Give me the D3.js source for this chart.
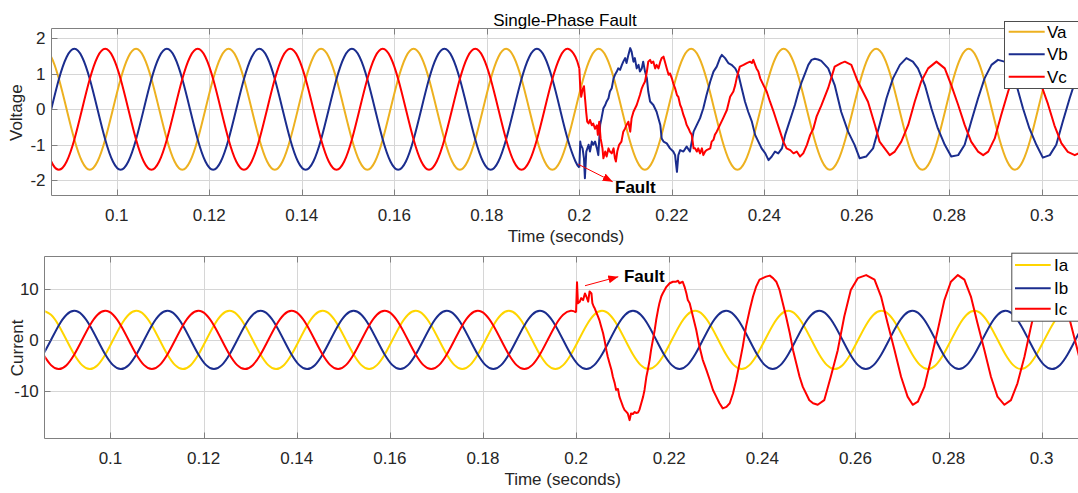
<!DOCTYPE html>
<html>
<head>
<meta charset="utf-8">
<script src="https://cdn.jsdelivr.net/npm/d3@7"></script>
<style>
  body { margin: 0; background: #fff; }
  svg { display: block; font-family: "Liberation Sans", Arial, sans-serif; }
</style>
</head>
<body>
<div id="chart"></div>
<script>
// clean samples: 12 per 50 Hz cycle (every 30 degrees)
const step = 0.02 / 12;
const tV0 = 0.084167;   // first voltage sample, on a Va peak
const tI0 = 0.085556;   // first current sample, on an Ia peak

const xTicks = [0.1, 0.12, 0.14, 0.16, 0.18, 0.2, 0.22, 0.24, 0.26, 0.28, 0.3];
const vTicks = [-2, -1, 0, 1, 2];
const iTicks = [-10, 0, 10];

// Va: no fault, whole range
const va = [
  1.7, 1.47, 0.85, 0, -0.85, -1.47, -1.7, -1.47, -0.85, 0, 0.85, 1.47,
  1.7, 1.47, 0.85, 0, -0.85, -1.47, -1.7, -1.47, -0.85, 0, 0.85, 1.47,
  1.7, 1.47, 0.85, 0, -0.85, -1.47, -1.7, -1.47, -0.85, 0, 0.85, 1.47,
  1.7, 1.47, 0.85, 0, -0.85, -1.47, -1.7, -1.47, -0.85, 0, 0.85, 1.47,
  1.7, 1.47, 0.85, 0, -0.85, -1.47, -1.7, -1.47, -0.85, 0, 0.85, 1.47,
  1.7, 1.47, 0.85, 0, -0.85, -1.47, -1.7, -1.47, -0.85, 0, 0.85, 1.47,
  1.7, 1.47, 0.85, 0, -0.85, -1.47, -1.7, -1.47, -0.85, 0, 0.85, 1.47,
  1.7, 1.47, 0.85, 0, -0.85, -1.47, -1.7, -1.47, -0.85, 0, 0.85, 1.47,
  1.7, 1.47, 0.85, 0, -0.85, -1.47, -1.7, -1.47, -0.85, 0, 0.85, 1.47,
  1.7, 1.47, 0.85, 0, -0.85, -1.47, -1.7, -1.47, -0.85, 0, 0.85, 1.47,
  1.7, 1.47, 0.85, 0, -0.85, -1.47, -1.7, -1.47, -0.85, 0, 0.85, 1.47,
  1.7, 1.47, 0.85, 0
];

// Vb, Vc before the fault (up to 0.2 s)
const vbPre = [
  -0.85, 0, 0.85, 1.47, 1.7, 1.47, 0.85, 0, -0.85, -1.47, -1.7, -1.47,
  -0.85, 0, 0.85, 1.47, 1.7, 1.47, 0.85, 0, -0.85, -1.47, -1.7, -1.47,
  -0.85, 0, 0.85, 1.47, 1.7, 1.47, 0.85, 0, -0.85, -1.47, -1.7, -1.47,
  -0.85, 0, 0.85, 1.47, 1.7, 1.47, 0.85, 0, -0.85, -1.47, -1.7, -1.47,
  -0.85, 0, 0.85, 1.47, 1.7, 1.47, 0.85, 0, -0.85, -1.47, -1.7, -1.47,
  -0.85, 0, 0.85, 1.47, 1.7, 1.47, 0.85, 0, -0.85, -1.47
];
const vcPre = [
  -0.85, -1.47, -1.7, -1.47, -0.85, 0, 0.85, 1.47, 1.7, 1.47, 0.85, 0,
  -0.85, -1.47, -1.7, -1.47, -0.85, 0, 0.85, 1.47, 1.7, 1.47, 0.85, 0,
  -0.85, -1.47, -1.7, -1.47, -0.85, 0, 0.85, 1.47, 1.7, 1.47, 0.85, 0,
  -0.85, -1.47, -1.7, -1.47, -0.85, 0, 0.85, 1.47, 1.7, 1.47, 0.85, 0,
  -0.85, -1.47, -1.7, -1.47, -0.85, 0, 0.85, 1.47, 1.7, 1.47, 0.85, 0,
  -0.85, -1.47, -1.7, -1.47, -0.85, 0, 0.85, 1.47, 1.7, 1.47
];

// Vb, Vc after the fault, [time, value]
const vbFault = [
  [0.2000,-1.64],[0.2002,-0.91],[0.2003,-1.00],[0.2007,-1.10],[0.2010,-1.38],[0.2012,-1.94],
  [0.2015,-1.19],[0.2020,-1.00],[0.2023,-1.19],[0.2027,-0.91],[0.2030,-1.00],[0.2034,-0.91],
  [0.2038,-1.10],[0.2041,-1.29],[0.2045,-0.44],[0.2048,-0.25],[0.2052,0.03],[0.2056,0.12],
  [0.2059,0.22],[0.2063,0.31],[0.2066,0.50],[0.2070,0.59],[0.2074,0.87],[0.2077,0.97],
  [0.2081,1.06],[0.2084,1.15],[0.2088,1.11],[0.2092,1.25],[0.2095,1.34],[0.2099,1.44],
  [0.2102,1.30],[0.2106,1.53],[0.2110,1.72],[0.2113,1.62],[0.2117,1.34],[0.2120,1.44],
  [0.2124,1.15],[0.2128,1.25],[0.2131,1.06],[0.2135,1.15],[0.2138,1.34],[0.2142,1.06],
  [0.2146,0.87],[0.2149,0.50],[0.2153,0.22],[0.2160,0.12],[0.2167,-0.07],[0.2175,-0.44],
  [0.2178,-0.82],[0.2182,-0.91],[0.2189,-0.96],[0.2196,-1.10],[0.2203,-1.19],[0.2207,-1.29],
  [0.2211,-1.76],[0.2214,-1.29],[0.2218,-1.15],[0.2225,-1.19],[0.2232,-1.05],[0.2239,-1.19],
  [0.2247,-0.63],[0.2254,-0.44],[0.2261,-0.25],[0.2268,0.03],[0.2275,0.40],[0.2283,0.78],
  [0.2290,1.06],[0.2297,1.20],[0.2304,1.44],[0.2308,1.53],[0.2315,1.44],[0.2322,1.30],
  [0.2329,1.25],[0.2337,1.15],[0.2344,0.97],[0.2351,0.59],[0.2358,0.22],[0.2365,-0.07],
  [0.2373,-0.35],[0.2380,-0.72],[0.2387,-0.91],[0.2394,-1.10],[0.2402,-1.24],[0.2409,-1.43],
  [0.2416,-1.33],[0.2423,-1.19],[0.2430,-1.24],[0.2438,-1.10],[0.2445,-0.72],[0.2452,-0.44],
  [0.2459,-0.16],[0.2466,0.12],[0.2474,0.50],[0.2481,0.78],[0.2488,1.01],[0.2495,1.25],
  [0.2502,1.39],[0.2509,1.42],[0.2516,1.40],[0.2523,1.36],[0.2538,1.15],[0.2552,0.68],
  [0.2566,-0.07],[0.2581,-0.63],[0.2595,-1.00],[0.2606,-1.38],[0.2620,-1.33],[0.2635,-1.10],
  [0.2649,-0.44],[0.2664,0.31],[0.2678,0.87],[0.2693,1.25],[0.2707,1.44],[0.2721,1.34],
  [0.2732,1.15],[0.2747,0.68],[0.2761,0.03],[0.2775,-0.54],[0.2790,-1.00],[0.2804,-1.33],
  [0.2819,-1.29],[0.2833,-1.00],[0.2847,-0.35],[0.2862,0.31],[0.2876,0.87],[0.2891,1.25],
  [0.2905,1.39],[0.2919,1.34],[0.2933,1.05],[0.2945,0.68],[0.2959,0.03],[0.2973,-0.54],
  [0.2988,-1.00],[0.3002,-1.36],[0.3017,-1.29],[0.3031,-1.00],[0.3045,-0.35],[0.3060,0.31],
  [0.3074,0.87],[0.3089,1.25]
];
const vcFault = [
  [0.2000,1.15],[0.2002,0.60],[0.2004,0.35],[0.2007,0.55],[0.2010,0.65],[0.2012,0.35],
  [0.2015,-0.10],[0.2017,-0.35],[0.2020,-0.40],[0.2023,-0.30],[0.2027,-0.45],[0.2030,-0.40],
  [0.2034,-0.55],[0.2038,-0.45],[0.2040,-0.72],[0.2043,-0.35],[0.2046,-0.82],[0.2050,-1.10],
  [0.2052,-1.38],[0.2056,-1.19],[0.2059,-1.33],[0.2063,-1.10],[0.2066,-1.19],[0.2070,-1.24],
  [0.2074,-1.10],[0.2077,-1.38],[0.2079,-1.47],[0.2082,-1.19],[0.2086,-1.00],[0.2091,-0.91],
  [0.2095,-0.63],[0.2099,-0.54],[0.2102,-0.44],[0.2106,-0.35],[0.2110,-0.63],[0.2113,-0.25],
  [0.2117,-0.07],[0.2124,0.12],[0.2131,0.40],[0.2135,0.59],[0.2138,0.68],[0.2142,0.78],
  [0.2146,1.06],[0.2149,1.34],[0.2153,1.39],[0.2156,1.30],[0.2160,1.34],[0.2164,1.15],
  [0.2167,1.25],[0.2171,1.15],[0.2175,1.34],[0.2178,1.44],[0.2182,1.48],[0.2185,1.34],
  [0.2189,1.15],[0.2193,0.97],[0.2196,1.01],[0.2200,0.87],[0.2203,0.73],[0.2207,0.59],
  [0.2211,0.40],[0.2214,0.35],[0.2218,0.12],[0.2221,0.03],[0.2225,-0.16],[0.2229,-0.30],
  [0.2232,-0.44],[0.2236,-0.54],[0.2239,-0.63],[0.2243,-0.72],[0.2247,-1.10],[0.2250,-1.10],
  [0.2254,-1.19],[0.2257,-1.10],[0.2261,-1.24],[0.2265,-1.10],[0.2268,-1.29],[0.2272,-1.19],
  [0.2275,-1.15],[0.2283,-1.10],[0.2286,-0.91],[0.2290,-0.86],[0.2293,-0.72],[0.2297,-0.63],
  [0.2304,-0.44],[0.2311,-0.25],[0.2319,-0.02],[0.2326,0.35],[0.2333,0.50],[0.2337,0.68],
  [0.2340,0.87],[0.2344,1.06],[0.2347,1.20],[0.2355,1.25],[0.2362,1.30],[0.2369,1.34],
  [0.2373,1.30],[0.2376,1.39],[0.2380,1.25],[0.2383,1.15],[0.2387,1.06],[0.2391,0.87],
  [0.2398,0.68],[0.2405,0.50],[0.2412,0.22],[0.2420,-0.07],[0.2427,-0.35],[0.2434,-0.63],
  [0.2441,-0.91],[0.2448,-1.10],[0.2456,-1.15],[0.2463,-1.24],[0.2470,-1.19],[0.2477,-1.33],
  [0.2484,-1.24],[0.2492,-1.00],[0.2499,-0.72],[0.2506,-0.54],[0.2513,-0.20],[0.2523,0.10],
  [0.2538,0.60],[0.2552,1.20],[0.2566,1.30],[0.2574,1.34],[0.2588,1.25],[0.2602,0.78],
  [0.2624,0.21],[0.2639,-0.44],[0.2649,-0.91],[0.2660,-1.10],[0.2671,-1.29],[0.2682,-1.19],
  [0.2696,-0.91],[0.2711,-0.44],[0.2725,0.21],[0.2739,0.78],[0.2754,1.15],[0.2772,1.34],
  [0.2790,1.15],[0.2804,0.68],[0.2819,0.12],[0.2833,-0.44],[0.2847,-0.91],[0.2862,-1.19],
  [0.2873,-1.29],[0.2884,-1.19],[0.2898,-0.82],[0.2912,-0.16],[0.2927,0.50],[0.2941,1.06],
  [0.2955,1.28],[0.2970,1.33],[0.2984,1.10],[0.2998,0.70],[0.3013,0.15],[0.3027,-0.45],
  [0.3042,-0.95],[0.3056,-1.20],[0.3071,-1.29],[0.3085,-1.20]
];

// Ia, Ib: no fault, whole range
const ia = [
  5.7, 4.94, 2.85, 0, -2.85, -4.94, -5.7, -4.94, -2.85, 0, 2.85, 4.94,
  5.7, 4.94, 2.85, 0, -2.85, -4.94, -5.7, -4.94, -2.85, 0, 2.85, 4.94,
  5.7, 4.94, 2.85, 0, -2.85, -4.94, -5.7, -4.94, -2.85, 0, 2.85, 4.94,
  5.7, 4.94, 2.85, 0, -2.85, -4.94, -5.7, -4.94, -2.85, 0, 2.85, 4.94,
  5.7, 4.94, 2.85, 0, -2.85, -4.94, -5.7, -4.94, -2.85, 0, 2.85, 4.94,
  5.7, 4.94, 2.85, 0, -2.85, -4.94, -5.7, -4.94, -2.85, 0, 2.85, 4.94,
  5.7, 4.94, 2.85, 0, -2.85, -4.94, -5.7, -4.94, -2.85, 0, 2.85, 4.94,
  5.7, 4.94, 2.85, 0, -2.85, -4.94, -5.7, -4.94, -2.85, 0, 2.85, 4.94,
  5.7, 4.94, 2.85, 0, -2.85, -4.94, -5.7, -4.94, -2.85, 0, 2.85, 4.94,
  5.7, 4.94, 2.85, 0, -2.85, -4.94, -5.7, -4.94, -2.85, 0, 2.85, 4.94,
  5.7, 4.94, 2.85, 0, -2.85, -4.94, -5.7, -4.94, -2.85, 0, 2.85, 4.94,
  5.7, 4.94, 2.85
];
const ib = [
  -2.85, 0, 2.85, 4.94, 5.7, 4.94, 2.85, 0, -2.85, -4.94, -5.7, -4.94,
  -2.85, 0, 2.85, 4.94, 5.7, 4.94, 2.85, 0, -2.85, -4.94, -5.7, -4.94,
  -2.85, 0, 2.85, 4.94, 5.7, 4.94, 2.85, 0, -2.85, -4.94, -5.7, -4.94,
  -2.85, 0, 2.85, 4.94, 5.7, 4.94, 2.85, 0, -2.85, -4.94, -5.7, -4.94,
  -2.85, 0, 2.85, 4.94, 5.7, 4.94, 2.85, 0, -2.85, -4.94, -5.7, -4.94,
  -2.85, 0, 2.85, 4.94, 5.7, 4.94, 2.85, 0, -2.85, -4.94, -5.7, -4.94,
  -2.85, 0, 2.85, 4.94, 5.7, 4.94, 2.85, 0, -2.85, -4.94, -5.7, -4.94,
  -2.85, 0, 2.85, 4.94, 5.7, 4.94, 2.85, 0, -2.85, -4.94, -5.7, -4.94,
  -2.85, 0, 2.85, 4.94, 5.7, 4.94, 2.85, 0, -2.85, -4.94, -5.7, -4.94,
  -2.85, 0, 2.85, 4.94, 5.7, 4.94, 2.85, 0, -2.85, -4.94, -5.7, -4.94,
  -2.85, 0, 2.85, 4.94, 5.7, 4.94, 2.85, 0, -2.85, -4.94, -5.7, -4.94,
  -2.85, 0, 2.85
];
// Ic before the fault
const icPre = [
  -2.85, -4.94, -5.7, -4.94, -2.85, 0, 2.85, 4.94, 5.7, 4.94, 2.85, 0,
  -2.85, -4.94, -5.7, -4.94, -2.85, 0, 2.85, 4.94, 5.7, 4.94, 2.85, 0,
  -2.85, -4.94, -5.7, -4.94, -2.85, 0, 2.85, 4.94, 5.7, 4.94, 2.85, 0,
  -2.85, -4.94, -5.7, -4.94, -2.85, 0, 2.85, 4.94, 5.7, 4.94, 2.85, 0,
  -2.85, -4.94, -5.7, -4.94, -2.85, 0, 2.85, 4.94, 5.7, 4.94, 2.85, 0,
  -2.85, -4.94, -5.7, -4.94, -2.85, 0, 2.85, 4.94, 5.7
];
// Ic after the fault
const icFault = [
  [0.2000,5.4],[0.2002,11.3],[0.2004,7.2],[0.2008,7.5],[0.2011,8.2],[0.2015,7.8],
  [0.2019,9.1],[0.2022,8.5],[0.2026,7.5],[0.2029,9.5],[0.2033,9.1],[0.2035,7.2],
  [0.2038,6.5],[0.2040,6.2],[0.2043,5.5],[0.2047,4.6],[0.2050,3.9],[0.2054,2.6],
  [0.2058,1.3],[0.2061,0.0],[0.2065,-2.0],[0.2068,-3.3],[0.2072,-4.6],[0.2076,-5.9],
  [0.2079,-7.2],[0.2083,-8.5],[0.2086,-9.8],[0.2090,-9.6],[0.2093,-11.1],[0.2097,-12.1],
  [0.2101,-13.1],[0.2104,-13.7],[0.2108,-14.1],[0.2111,-14.4],[0.2115,-15.7],[0.2118,-14.4],
  [0.2122,-14.5],[0.2126,-14.1],[0.2129,-14.3],[0.2133,-14.2],[0.2136,-13.7],[0.2140,-12.4],
  [0.2144,-11.1],[0.2147,-9.8],[0.2151,-7.2],[0.2154,-5.9],[0.2158,-3.9],[0.2161,-2.0],
  [0.2165,0.0],[0.2169,2.0],[0.2172,3.9],[0.2176,5.9],[0.2179,7.2],[0.2183,8.5],
  [0.2186,9.1],[0.2194,10.4],[0.2201,11.1],[0.2208,11.4],[0.2215,11.4],[0.2219,11.6],
  [0.2222,11.1],[0.2229,11.4],[0.2233,10.4],[0.2237,9.1],[0.2240,7.8],[0.2244,7.2],
  [0.2251,4.6],[0.2258,2.0],[0.2265,-1.3],[0.2272,-3.9],[0.2280,-5.9],[0.2287,-7.8],
  [0.2294,-9.8],[0.2301,-11.1],[0.2308,-12.4],[0.2315,-13.4],[0.2323,-13.1],[0.2330,-12.4],
  [0.2337,-10.5],[0.2344,-7.8],[0.2351,-4.6],[0.2358,-1.3],[0.2365,2.6],[0.2373,5.9],
  [0.2380,8.5],[0.2387,10.5],[0.2394,11.8],[0.2401,12.1],[0.2408,12.4],[0.2416,12.6],
  [0.2423,12.1],[0.2430,11.4],[0.2437,9.8],[0.2444,7.2],[0.2451,4.6],[0.2459,1.3],
  [0.2466,-2.0],[0.2473,-4.6],[0.2480,-7.2],[0.2487,-9.2],[0.2494,-10.5],[0.2501,-11.8],
  [0.2509,-12.4],[0.2519,-12.7],[0.2533,-11.8],[0.2547,-7.2],[0.2562,-2.0],[0.2576,4.6],
  [0.2590,9.8],[0.2605,12.1],[0.2623,12.7],[0.2641,11.8],[0.2655,8.5],[0.2669,3.3],
  [0.2684,-2.0],[0.2698,-7.2],[0.2712,-11.1],[0.2723,-12.7],[0.2734,-12.1],[0.2748,-9.2],
  [0.2762,-3.9],[0.2777,2.0],[0.2791,7.8],[0.2805,11.4],[0.2820,12.7],[0.2834,11.8],
  [0.2848,8.5],[0.2862,3.3],[0.2877,-2.0],[0.2891,-7.2],[0.2905,-11.1],[0.2920,-12.7],
  [0.2934,-11.8],[0.2948,-8.5],[0.2963,-3.3],[0.2977,2.6],[0.2991,8.0],[0.3005,11.4],
  [0.3020,12.6],[0.3034,11.8],[0.3048,8.5],[0.3062,3.3],[0.3077,-2.0],[0.3091,-7.2]
];

const W = 1078, H = 493, RIGHT = 1078;
const tDomain = [0.086, 0.3078];
const colors = { a1: "#EDB120", a2: "#FFD500", b: "#1B2D8E", c: "#FF0000" };
const axisColor = "#808080", gridColor = "#d6d6d6", textColor = "#262626";
const fmtT = d => String(+d.toFixed(2));

const svg = d3.select("#chart").append("svg")
  .attr("width", W)
  .attr("height", H);

svg.append("defs").append("marker")
  .attr("id", "arrow")
  .attr("viewBox", "0 0 10 8")
  .attr("refX", 10).attr("refY", 4)
  .attr("markerWidth", 10).attr("markerHeight", 8)
  .attr("markerUnits", "userSpaceOnUse")
  .attr("orient", "auto")
  .append("path").attr("d", "M0,0L10,4L0,8z").attr("fill", "#ff0000");

const gridPts = (t0, vals) => vals.map((v, i) => [t0 + i * step, v]);

const panels = [
  {
    id: "v", left: 52, top: 29.3, bottom: 196,
    yDomain: [-2.44, 2.25], yTicks: vTicks, yLabel: "Voltage", yLabelX: 22,
    series: [
      { name: "Va", color: colors.a1, clean: gridPts(tV0, va), fault: null },
      { name: "Vb", color: colors.b, clean: gridPts(tV0, vbPre), fault: vbFault },
      { name: "Vc", color: colors.c, clean: gridPts(tV0, vcPre), fault: vcFault }
    ],
    legend: { x: 1004, y: 21, w: 74, h: 67, l0: 1008.7, l1: 1044.7, tx: 1047, rows: [31.7, 54.3, 76.7] },
    note: { t0: 0.19978, v0: -1.548, t1: 0.20721, v1: -2.038, tt: 0.20771, vt: -2.178 }
  },
  {
    id: "i", left: 45.3, top: 256.7, bottom: 439,
    yDomain: [-19.4, 16.3], yTicks: iTicks, yLabel: "Current", yLabelX: 23,
    series: [
      { name: "Ia", color: colors.a2, clean: gridPts(tI0, ia), fault: null },
      { name: "Ib", color: colors.b, clean: gridPts(tI0, ib), fault: null },
      { name: "Ic", color: colors.c, clean: gridPts(tI0, icPre), fault: icFault }
    ],
    legend: { x: 1011.3, y: 252.7, w: 67, h: 68, l0: 1015, l1: 1050.7, tx: 1054, rows: [265, 288.3, 308.7] },
    note: { t0: 0.20192, v0: 10.62, t1: 0.20907, v1: 12.38, tt: 0.21029, vt: 12.52 }
  }
];

panels.forEach(p => {
  const x = d3.scaleLinear().domain(tDomain).range([p.left, RIGHT]);
  const y = d3.scaleLinear().domain(p.yDomain).range([p.bottom, p.top]);
  const g = svg.append("g");
  const crisp = v => Math.round(v) + 0.5;

  // grid
  g.append("g").selectAll("line").data(xTicks).join("line")
    .attr("x1", d => crisp(x(d))).attr("x2", d => crisp(x(d)))
    .attr("y1", p.top).attr("y2", p.bottom)
    .attr("stroke", gridColor);
  g.append("g").selectAll("line").data(p.yTicks).join("line")
    .attr("x1", p.left).attr("x2", RIGHT)
    .attr("y1", d => crisp(y(d))).attr("y2", d => crisp(y(d)))
    .attr("stroke", gridColor);

  // curves
  g.append("clipPath").attr("id", "clip-" + p.id)
    .append("rect")
    .attr("x", p.left).attr("y", p.top)
    .attr("width", RIGHT - p.left).attr("height", p.bottom - p.top);
  const plot = g.append("g").attr("clip-path", `url(#clip-${p.id})`);
  const smooth = d3.line().x(d => x(d[0])).y(d => y(d[1])).curve(d3.curveNatural);
  const rough = d3.line().x(d => x(d[0])).y(d => y(d[1])).curve(d3.curveLinear);
  p.series.forEach(s => {
    const pre = s.fault ? s.clean.concat([s.fault[0]]) : s.clean;
    plot.append("path").attr("d", smooth(pre))
      .attr("fill", "none").attr("stroke", s.color)
      .attr("stroke-width", 2).attr("stroke-linejoin", "round");
    if (s.fault) {
      plot.append("path").attr("d", rough(s.fault))
        .attr("fill", "none").attr("stroke", s.color)
        .attr("stroke-width", 2).attr("stroke-linejoin", "round");
    }
  });

  // box and inward ticks
  const L = crisp(p.left) - 1, T = crisp(p.top) - 1, B = crisp(p.bottom) - 1;
  g.append("path")
    .attr("d", `M${L},${B}V${T}H${RIGHT + 2}M${L},${B}H${RIGHT + 2}`)
    .attr("fill", "none").attr("stroke", axisColor);
  g.append("g").selectAll("path").data(xTicks).join("path")
    .attr("d", d => `M${crisp(x(d))},${B}v-6M${crisp(x(d))},${T}v6`)
    .attr("stroke", axisColor);
  g.append("g").selectAll("path").data(p.yTicks).join("path")
    .attr("d", d => `M${L},${crisp(y(d))}h6`)
    .attr("stroke", axisColor);

  // tick labels
  g.append("g").selectAll("text").data(xTicks).join("text")
    .attr("x", d => x(d)).attr("y", p.bottom + 24.5)
    .attr("text-anchor", "middle").attr("font-size", 17).attr("fill", textColor)
    .text(fmtT);
  g.append("g").selectAll("text").data(p.yTicks).join("text")
    .attr("x", p.left - 6.5).attr("y", d => y(d)).attr("dy", "0.35em")
    .attr("text-anchor", "end").attr("font-size", 17).attr("fill", textColor)
    .text(d => String(d));

  // axis labels
  g.append("text")
    .attr("x", (p.left + RIGHT) / 2 + 1).attr("y", p.bottom + 46)
    .attr("text-anchor", "middle").attr("font-size", 17).attr("fill", textColor)
    .text("Time (seconds)");
  g.append("text")
    .attr("transform", `translate(${p.yLabelX},${(p.top + p.bottom) / 2}) rotate(-90)`)
    .attr("text-anchor", "middle").attr("font-size", 17).attr("fill", textColor)
    .text(p.yLabel);

  // fault annotation
  const n = p.note;
  g.append("line")
    .attr("x1", x(n.t0)).attr("y1", y(n.v0))
    .attr("x2", x(n.t1)).attr("y2", y(n.v1))
    .attr("stroke", "#ff0000").attr("stroke-width", 1)
    .attr("marker-end", "url(#arrow)");
  g.append("text")
    .attr("x", x(n.tt)).attr("y", y(n.vt)).attr("dy", "0.36em")
    .attr("font-size", 17).attr("font-weight", "bold").attr("fill", "#000")
    .text("Fault");

  // legend
  const lg = p.legend;
  const leg = g.append("g");
  leg.append("rect")
    .attr("x", lg.x + 0.5).attr("y", lg.y + 0.5)
    .attr("width", lg.w).attr("height", lg.h)
    .attr("fill", "#fff").attr("stroke", "#4d4d4d");
  const rows = leg.selectAll("g").data(p.series).join("g");
  rows.append("line")
    .attr("x1", lg.l0).attr("x2", lg.l1)
    .attr("y1", (d, i) => lg.rows[i]).attr("y2", (d, i) => lg.rows[i])
    .attr("stroke", d => d.color).attr("stroke-width", 2);
  rows.append("text")
    .attr("x", lg.tx).attr("y", (d, i) => lg.rows[i]).attr("dy", "0.36em")
    .attr("font-size", 17).attr("fill", "#000")
    .text(d => d.name);
});

// title
svg.append("text")
  .attr("x", (panels[0].left + RIGHT) / 2).attr("y", 25.5)
  .attr("text-anchor", "middle").attr("font-size", 17).attr("fill", "#000")
  .text("Single-Phase Fault");
</script>
</body>
</html>
